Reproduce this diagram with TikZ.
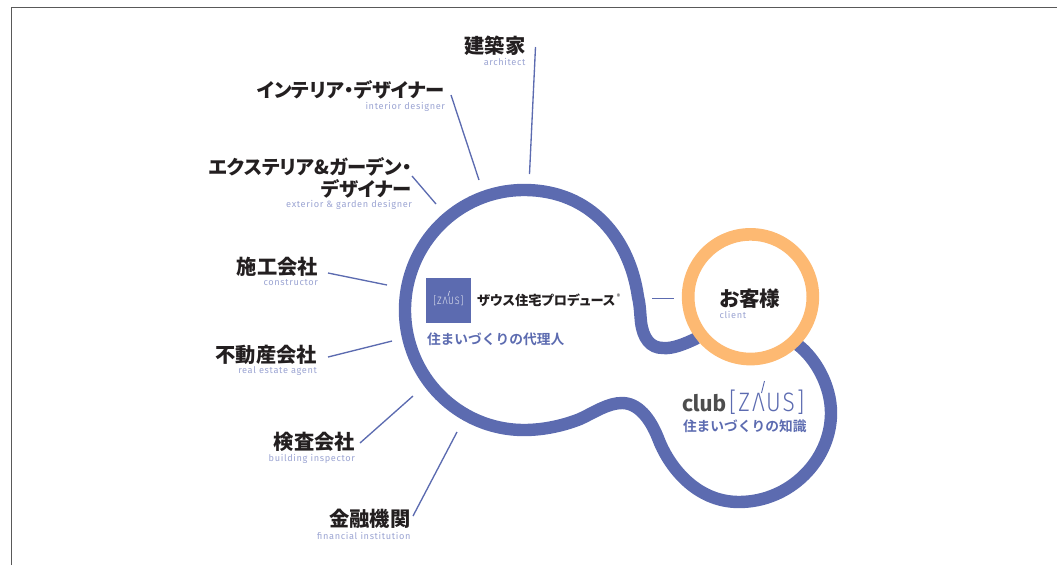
\documentclass[tikz,border=0pt]{standalone}
\usepackage{fontspec}
\usetikzlibrary{arrows}
\setmainfont{Fira Sans}
\newfontfamily\jpfont[RawFeature=+palt]{Noto Sans CJK JP Black}
\newfontfamily\jpwide{Noto Sans CJK JP Bold}
\newfontfamily\subfont[LetterSpace=7]{Fira Sans}
\newfontfamily\logofont[LetterSpace=8,FakeStretch=0.85]{Fira Sans Light}
\definecolor{zausblue}{HTML}{5C6BB0}
\definecolor{zaussub}{HTML}{9BA4D2}
\definecolor{zausorange}{HTML}{FDB972}
\definecolor{zausink}{HTML}{231F20}
\definecolor{zausgray}{HTML}{4D4D4D}

\begin{document}
\begin{tikzpicture}
  [x=0.75pt,y=-0.75pt,every node/.style={inner sep=0pt,outer sep=0pt}]
  \tikzstyle{role}=[anchor=east,align=right,text=zausink,font=\jpfont\fontsize{15.2}{17}\selectfont]
  \tikzstyle{rolekana}=[role,font=\jpfont\fontsize{14.5}{17}\selectfont]
  \tikzstyle{rolesub}=[anchor=east,text=zaussub,font=\subfont\fontsize{6.9}{8}\selectfont]
  \tikzstyle{spoke}=[draw=zausblue,line width=1pt]
  \tikzstyle{ribbon}=[draw=zausblue,line width=9.3pt]
  \tikzstyle{ring}=[circle,draw=zausorange,line width=9.5pt,fill=white,minimum size=93.5pt]
  \tikzstyle{motto}=[anchor=west,text=zausblue,font=\jpwide\fontsize{10.3}{12}\selectfont]
  \useasboundingbox (0,0) rectangle (1057,565);

  % frame
  \coordinate (fa) at (11.5,565);
  \coordinate (fb) at (11.5,7.5);
  \coordinate (fc) at (1057,7.5);
  \draw[black!65, line width=0.9pt] (fa) -- (fb) -- (fc);

  % ribbon round both areas
  \draw[ribbon] (697,338) .. controls (685,344) and (672,349) .. (663,348)
    .. controls (650,348) and (643,338) .. (641,322)
    .. controls (640,312) and (640,305) .. (638,297)
    .. controls (630,240) and (592,190) .. (524,190)
    .. controls (458,190) and (405,244) .. (405,310)
    .. controls (405,376) and (458,430) .. (524,430)
    .. controls (545,430) and (565,425) .. (580,419)
    .. controls (595,412) and (608,403) .. (622,403)
    .. controls (638,403) and (650,418) .. (658,438)
    .. controls (668,465) and (695,502) .. (739,502)
    .. controls (790,502) and (831,460) .. (831,413)
    .. controls (831,385) and (815,358) .. (798,345);
  \node[ring] (ring) at (750.5,296.7) {};

  % client
  \node[text=zausink,font=\jpfont\fontsize{15.4}{18}\selectfont] (client) at (750,299) {お客様};
  \node[anchor=west,text=zaussub,font=\subfont\fontsize{6.9}{8}\selectfont] (clients) at (719.5,314.5) {client};

  % producer
  \node[fill=zausblue,minimum size=33.75pt] (logo) at (448.5,300.5) {};
  \node[text=white!85!zausblue,font=\logofont\fontsize{8}{9}\selectfont] (logot) at (448.5,300.5) {[Z\kern0.6pt Λ\kern0.3pt US]};
  \coordinate (ticka) at (448,296);
  \coordinate (tickb) at (449.5,291);
  \draw[white!85!zausblue, line width=0.4pt] (ticka) -- (tickb);
  \node[anchor=west,text=zausink,font=\jpfont\fontsize{9.9}{12}\selectfont] (prod) at (477,300) {ザウス住宅プロデュース};
  \node[anchor=west,text=zausink,font=\fontsize{4.5}{5}\selectfont] (regd) at (616.5,296.5) {®};
  \node[motto] (agent) at (427,339) {住まいづくりの代理人};

  % club
  \node[anchor=base west,text=zausgray,font=\fontsize{17}{20}\selectfont\bfseries] (club) at (682,411) {club};
  \node[anchor=base west,text=zausblue,font=\logofont\fontsize{20}{22}\selectfont] (clubz) at (729,411) {[Z\kern1.6pt Λ\kern0.8pt US]};
  \coordinate (clubta) at (761.5,393);
  \coordinate (clubtb) at (764.5,381);
  \draw[zausblue, line width=0.7pt] (clubta) -- (clubtb);
  \node[motto] (know) at (683,426) {住まいづくりの知識};

  % roles round the big circle
  \node[role] (arch) at (525.5,46) {建築家};
  \node[rolesub] (archs) at (525.5,61.5) {architect};
  \node[rolekana] (inte) at (445,90) {インテリア・デザイナー};
  \node[rolesub] (intes) at (445,106.5) {interior designer};
  \node[rolekana] (exte) at (412,178) {エクステリア\&ガーデン・\\デザイナー};
  \node[rolesub] (extes) at (412,204.5) {exterior \& garden designer};
  \node[role] (cons) at (318,267) {施工会社};
  \node[rolesub] (conss) at (318,283) {constructor};
  \node[role] (real) at (317,355) {不動産会社};
  \node[rolesub] (reals) at (317,371.5) {real estate agent};
  \node[role] (insp) at (355,442) {検査会社};
  \node[rolesub] (insps) at (355,458.5) {building inspector};
  \node[role] (fina) at (410.5,519) {金融機関};
  \node[rolesub] (finas) at (410.5,535.5) {financial institution};

  \coordinate (a1) at (535.5,47);   \coordinate (a2) at (529.5,174);
  \coordinate (b1) at (451,95);     \coordinate (b2) at (479,180);
  \coordinate (c1) at (412,176);    \coordinate (c2) at (436,204);
  \coordinate (d1) at (328,273);    \coordinate (d2) at (387,285);
  \coordinate (e1) at (328,357);    \coordinate (e2) at (392,341);
  \coordinate (f1) at (360,443);    \coordinate (f2) at (413,396);
  \coordinate (g1) at (413,516);    \coordinate (g2) at (457,432);
  \coordinate (h1) at (652,298.7);  \coordinate (h2) at (673.5,298.7);

  \path (a1) edge[spoke] (a2);
  \path (b1) edge[spoke] (b2);
  \path (c1) edge[spoke] (c2);
  \path (d1) edge[spoke] (d2);
  \path (e1) edge[spoke] (e2);
  \path (f1) edge[spoke] (f2);
  \path (g1) edge[spoke] (g2);
  \path (h1) edge[spoke] (h2);

\end{tikzpicture}
\end{document}
